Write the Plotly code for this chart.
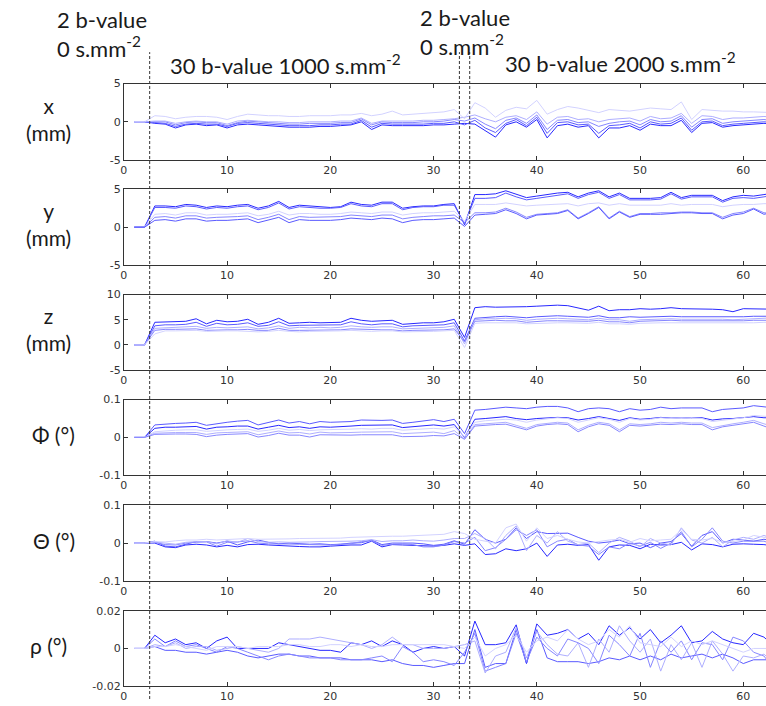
import plotly.graph_objects as go

# ---------------------------------------------------------------------------
# Motion-correction parameters per volume (5 subjects).
# Volumes 1-2: b=0, 3-32: b=1000, 33: b=0, 34-63: b=2000
# ---------------------------------------------------------------------------
x_mm = [
    [0, 0,
     -0.2, -0.3, -0.8, -0.4, -0.3, -0.5, -0.4, -0.8, -0.4, -0.3, -0.4, -0.5, -0.6, -0.7, -0.7,
     -0.7, -0.6, -0.6, -0.5, -0.4, 0.0, -1.0, -0.4, -0.5, -0.5, -0.5, -0.5, -0.4, -0.4, -0.3,
     -0.2,
     -0.3, -1.2, -2.0, -0.4, 0.0, -0.7, 0.3, -2.1, -0.5, -0.3, -0.7, -0.5, -2.1, -0.8, -0.8,
     -0.5, -1.1, -0.3, -0.5, -0.5, 0.2, -1.4, -0.2, -0.1, -0.7, -0.5, -0.4, -0.3, -0.2, -0.3],
    [0, 0,
     -0.1, -0.2, -0.6, -0.3, -0.2, -0.3, -0.3, -0.6, -0.2, -0.1, -0.2, -0.3, -0.4, -0.5, -0.5,
     -0.5, -0.4, -0.4, -0.3, -0.3, 0.2, -0.7, -0.2, -0.3, -0.3, -0.3, -0.3, -0.2, -0.2, 0.0,
     -0.4,
     0.2, -0.8, -1.4, -0.2, 0.3, -0.5, 0.6, -1.5, -0.1, 0.0, -0.4, -0.3, -1.5, -0.5, -0.4,
     -0.2, -0.8, 0.0, -0.3, -0.2, 0.5, -1.1, 0.0, 0.1, -0.5, -0.3, -0.2, -0.1, 0.0, -0.1],
    [0, 0,
     0.0, 0.0, -0.4, -0.1, 0.0, -0.1, -0.1, -0.5, -0.1, 0.1, 0.0, -0.1, -0.2, -0.3, -0.3,
     -0.2, -0.2, -0.2, -0.1, -0.1, 0.4, -0.4, 0.0, -0.1, -0.1, -0.1, 0.0, 0.0, 0.1, 0.3,
     0.1,
     0.5, -0.3, -0.9, 0.2, 0.5, -0.2, 0.9, -1.0, 0.2, 0.3, -0.1, 0.0, -0.6, -0.2, 0.0,
     0.1, -0.4, 0.3, 0.0, 0.1, 0.8, -0.7, 0.3, 0.4, -0.2, 0.0, 0.1, 0.2, 0.3, 0.1],
    [0, 0,
     0.1, 0.1, -0.2, 0.0, 0.1, 0.0, 0.0, -0.3, 0.1, 0.2, 0.1, 0.0, 0.0, -0.1, -0.1,
     0.0, 0.0, 0.0, 0.1, 0.1, 0.5, -0.2, 0.1, 0.1, 0.1, 0.1, 0.2, 0.2, 0.3, 0.4,
     0.6,
     0.9, 0.4, 0.0, 0.6, 0.8, 0.3, 1.3, -0.3, 0.6, 0.7, 0.3, 0.4, 0.0, 0.3, 0.4,
     0.5, 0.1, 0.7, 0.4, 0.5, 1.1, -0.2, 0.8, 0.7, 0.3, 0.5, 0.5, 0.6, 0.7, 0.6],
    [0, 0,
     0.8, 0.7, 0.4, 0.6, 0.7, 0.7, 0.6, 0.3, 0.7, 1.0, 0.9, 0.8, 0.8, 0.7, 0.7,
     0.8, 0.8, 0.8, 0.9, 0.9, 1.1, 0.8, 1.0, 1.4, 0.9, 1.0, 1.1, 1.2, 1.3, 1.6,
     0.4,
     2.5, 1.8, 0.6, 1.5, 1.9, 1.7, 2.8, 1.0, 1.6, 2.0, 1.8, 1.5, 1.2, 1.6, 1.5,
     1.4, 1.6, 1.8, 1.7, 1.6, 2.6, 0.3, 1.6, 1.5, 1.4, 1.4, 1.3, 1.3, 1.2, 1.2],
]

y_mm = [
    [0, 0,
     2.8, 2.8, 2.7, 3.0, 2.9, 2.6, 2.8, 2.7, 2.9, 3.0, 2.5, 2.8, 3.4, 2.6, 2.9,
     2.8, 2.7, 2.6, 2.7, 3.3, 3.0, 2.9, 3.3, 3.3, 2.5, 2.7, 2.8, 2.8, 3.0, 3.1,
     0.3,
     4.3, 4.3, 4.4, 4.8, 4.3, 3.9, 4.1, 4.3, 4.5, 4.6, 4.0, 4.5, 4.8, 4.0, 4.5,
     3.8, 3.8, 3.8, 3.9, 4.6, 3.9, 4.2, 4.2, 4.2, 3.5, 4.0, 4.2, 4.1, 4.3, 4.5],
    [0, 0,
     2.6, 2.6, 2.5, 2.8, 2.7, 2.4, 2.6, 2.5, 2.7, 2.8, 2.3, 2.6, 3.2, 2.4, 2.7,
     2.6, 2.5, 2.5, 2.6, 3.1, 2.8, 2.7, 3.1, 3.1, 2.3, 2.6, 2.7, 2.7, 2.9, 2.9,
     0.5,
     3.8, 3.8, 3.9, 4.5, 4.0, 3.6, 3.8, 4.0, 4.2, 4.4, 3.8, 4.3, 4.6, 3.8, 4.3,
     3.6, 3.6, 3.6, 3.7, 4.4, 3.7, 4.0, 4.0, 4.0, 3.3, 3.8, 3.9, 3.8, 4.0, 4.2],
    [0, 0,
     1.7, 1.8, 1.6, 1.9, 1.9, 1.6, 1.7, 1.7, 1.8, 1.9, 1.5, 1.7, 2.1, 1.6, 1.8,
     1.8, 1.7, 1.7, 1.8, 2.0, 1.9, 1.8, 2.0, 2.0, 1.6, 1.8, 1.9, 1.9, 2.0, 2.1,
     0.8,
     3.0, 3.0, 3.0, 3.2, 3.0, 2.8, 2.9, 3.0, 3.1, 3.1, 2.8, 3.1, 3.2, 2.9, 3.1,
     2.9, 2.9, 2.9, 2.9, 3.1, 2.9, 3.0, 3.0, 3.0, 2.7, 2.9, 3.0, 3.0, 3.1, 3.1],
    [0, 0,
     1.3, 1.4, 1.2, 1.5, 1.5, 1.2, 1.3, 1.3, 1.4, 1.5, 1.0, 1.3, 1.7, 1.0, 1.4,
     1.3, 1.3, 1.3, 1.4, 1.6, 1.5, 1.4, 1.6, 1.6, 1.1, 1.3, 1.4, 1.5, 1.5, 1.6,
     0.6,
     1.9, 1.9, 2.0, 2.5, 2.0, 1.3, 1.7, 1.8, 1.9, 2.3, 1.2, 1.9, 2.7, 1.2, 2.1,
     1.4, 1.8, 1.8, 1.9, 1.9, 2.0, 2.0, 1.9, 1.9, 1.3, 1.8, 2.0, 2.5, 1.9, 1.8],
    [0, 0,
     0.9, 1.0, 0.8, 1.1, 1.1, 0.8, 0.9, 0.9, 1.0, 1.1, 0.6, 0.9, 1.3, 0.6, 1.0,
     0.9, 0.9, 0.9, 1.0, 1.2, 1.1, 1.0, 1.2, 1.1, 0.6, 0.9, 1.0, 1.0, 1.1, 1.2,
     0.1,
     1.6, 1.7, 1.8, 2.3, 1.8, 1.1, 1.6, 1.7, 1.8, 2.2, 1.1, 1.8, 2.6, 1.1, 2.0,
     1.3, 1.7, 1.7, 1.7, 1.8, 1.9, 1.9, 1.8, 1.8, 1.1, 1.6, 1.8, 2.4, 1.7, 2.0],
]

z_mm = [
    [0, 0,
     4.5, 4.6, 4.6, 4.7, 5.2, 4.2, 4.9, 4.6, 4.7, 5.1, 4.1, 4.5, 5.3, 4.3, 4.4,
     4.5, 4.4, 4.5, 4.5, 5.3, 4.9, 4.7, 4.8, 4.9, 4.1, 4.3, 4.4, 4.4, 4.6, 5.1,
     1.5,
     7.4, 7.6, 7.5, 7.5, 7.5, 7.6, 7.7, 7.8, 7.9, 7.8, 7.3, 6.9, 7.7, 6.8, 7.0,
     7.0, 7.2, 7.1, 7.2, 7.4, 7.2, 7.2, 7.2, 7.1, 7.0, 6.6, 7.2, 7.2, 7.1, 7.1],
    [0, 0,
     3.8, 4.0, 4.0, 4.1, 4.5, 3.7, 4.3, 4.0, 4.1, 4.4, 3.7, 3.9, 4.6, 3.8, 3.9,
     3.9, 3.9, 3.9, 4.0, 4.6, 4.2, 4.0, 4.2, 4.2, 3.6, 3.8, 3.9, 3.9, 4.0, 4.4,
     0.8,
     5.3, 5.5, 5.6, 5.7, 5.6, 5.4, 5.6, 5.7, 5.8, 5.7, 5.6, 5.5, 5.8, 5.4, 5.4,
     5.6, 5.5, 5.6, 5.6, 5.7, 5.6, 5.6, 5.6, 5.5, 5.6, 5.5, 5.6, 5.7, 5.7, 5.7],
    [0, 0,
     3.3, 3.4, 3.4, 3.5, 3.7, 3.3, 3.5, 3.4, 3.5, 3.6, 3.2, 3.4, 3.8, 3.3, 3.5,
     3.4, 3.5, 3.4, 3.5, 3.8, 3.6, 3.5, 3.6, 3.6, 3.2, 3.3, 3.4, 3.4, 3.5, 3.8,
     0.2,
     5.0, 5.2, 5.2, 5.3, 5.2, 4.9, 5.1, 5.2, 5.3, 5.2, 5.1, 5.0, 5.3, 5.0, 5.0,
     4.7, 5.0, 5.1, 5.1, 5.2, 5.1, 5.1, 5.2, 5.1, 5.1, 5.0, 5.1, 5.3, 5.3, 5.4],
    [0, 0,
     2.9, 3.1, 3.1, 3.1, 3.2, 2.9, 3.0, 3.0, 3.0, 3.1, 2.9, 2.9, 3.3, 2.9, 2.9,
     2.9, 3.0, 3.0, 3.0, 3.2, 3.1, 3.0, 3.0, 3.0, 2.8, 2.9, 2.9, 3.0, 3.0, 3.2,
     0.6,
     4.7, 4.8, 4.9, 4.8, 4.8, 4.5, 4.7, 4.8, 4.8, 4.8, 4.7, 4.7, 4.9, 4.6, 4.6,
     4.4, 4.7, 4.8, 4.8, 4.9, 4.8, 4.8, 4.8, 4.7, 4.7, 4.7, 4.8, 4.9, 4.9, 4.9],
    [0, 0,
     2.2, 2.8, 2.8, 2.8, 2.9, 2.7, 2.8, 2.8, 2.8, 2.7, 2.6, 2.7, 2.9, 2.7, 2.6,
     2.7, 2.7, 2.8, 2.8, 2.9, 2.8, 2.7, 2.8, 2.8, 2.6, 2.6, 2.7, 2.7, 2.8, 2.9,
     -0.5,
     4.3, 4.4, 4.4, 4.4, 4.4, 4.2, 4.3, 4.4, 4.4, 4.4, 4.3, 4.3, 4.5, 4.2, 4.2,
     4.1, 4.3, 4.4, 4.4, 4.4, 4.4, 4.4, 4.4, 4.3, 4.3, 4.3, 4.4, 4.4, 4.5, 4.5],
]

phi_deg = [
    [0, 0,
     0.033, 0.036, 0.037, 0.038, 0.040, 0.032, 0.037, 0.040, 0.043, 0.045, 0.033, 0.040, 0.046, 0.038, 0.042,
     0.036, 0.042, 0.040, 0.041, 0.042, 0.046, 0.045, 0.045, 0.046, 0.037, 0.040, 0.043, 0.047, 0.042, 0.048,
     0.010,
     0.072, 0.074, 0.076, 0.080, 0.078, 0.076, 0.080, 0.082, 0.082, 0.078, 0.068, 0.076, 0.078, 0.076, 0.068,
     0.076, 0.072, 0.074, 0.080, 0.076, 0.078, 0.078, 0.078, 0.068, 0.074, 0.076, 0.078, 0.084, 0.080, 0.078],
    [0, 0,
     0.024, 0.027, 0.027, 0.028, 0.029, 0.022, 0.027, 0.028, 0.030, 0.030, 0.022, 0.027, 0.032, 0.026, 0.028,
     0.024, 0.028, 0.027, 0.028, 0.030, 0.032, 0.032, 0.033, 0.033, 0.026, 0.028, 0.030, 0.033, 0.030, 0.034,
     0.000,
     0.048, 0.050, 0.052, 0.055, 0.050, 0.047, 0.050, 0.052, 0.053, 0.052, 0.046, 0.050, 0.055, 0.050, 0.045,
     0.052, 0.048, 0.050, 0.053, 0.051, 0.052, 0.051, 0.052, 0.046, 0.049, 0.050, 0.052, 0.055, 0.052, 0.052],
    [0, 0,
     0.015, 0.018, 0.019, 0.020, 0.020, 0.016, 0.019, 0.020, 0.021, 0.022, 0.016, 0.019, 0.024, 0.019, 0.021,
     0.018, 0.020, 0.020, 0.020, 0.022, 0.023, 0.022, 0.024, 0.024, 0.019, 0.021, 0.022, 0.024, 0.022, 0.028,
     0.002,
     0.040, 0.044, 0.046, 0.048, 0.046, 0.040, 0.046, 0.050, 0.052, 0.050, 0.040, 0.046, 0.052, 0.048, 0.040,
     0.050, 0.046, 0.048, 0.052, 0.050, 0.052, 0.050, 0.050, 0.042, 0.046, 0.050, 0.052, 0.058, 0.055, 0.054],
    [0, 0,
     0.011, 0.013, 0.013, 0.013, 0.013, 0.008, 0.012, 0.013, 0.014, 0.015, 0.007, 0.011, 0.017, 0.012, 0.013,
     0.009, 0.014, 0.012, 0.012, 0.013, 0.014, 0.014, 0.015, 0.015, 0.010, 0.012, 0.013, 0.014, 0.010, 0.018,
     -0.004,
     0.034, 0.036, 0.038, 0.040, 0.032, 0.024, 0.034, 0.038, 0.040, 0.038, 0.020, 0.032, 0.040, 0.036, 0.020,
     0.036, 0.034, 0.036, 0.040, 0.038, 0.040, 0.038, 0.038, 0.026, 0.032, 0.036, 0.040, 0.045, 0.036, 0.028],
    [0, 0,
     0.008, 0.009, 0.009, 0.009, 0.008, 0.002, 0.006, 0.008, 0.009, 0.010, 0.001, 0.005, 0.011, 0.006, 0.006,
     0.001, 0.007, 0.006, 0.006, 0.006, 0.007, 0.007, 0.007, 0.007, 0.002, 0.002, 0.003, 0.005, 0.004, 0.010,
     -0.005,
     0.030, 0.033, 0.034, 0.035, 0.028, 0.020, 0.030, 0.034, 0.036, 0.034, 0.015, 0.028, 0.036, 0.032, 0.015,
     0.032, 0.030, 0.032, 0.035, 0.034, 0.036, 0.034, 0.034, 0.020, 0.028, 0.032, 0.036, 0.040, 0.030, 0.020],
]

theta_deg = [
    [0, 0,
     -0.000, -0.010, -0.012, -0.005, -0.003, -0.005, -0.010, -0.006, -0.010, -0.004, -0.003, -0.005, -0.007, -0.008, -0.009,
     -0.010, -0.010, -0.008, -0.006, -0.005, -0.005, 0.005, -0.010, -0.004, -0.005, -0.006, -0.008, -0.008, -0.006, -0.002,
     -0.006,
     -0.002, -0.030, -0.028, -0.015, -0.020, -0.015, 0.000, -0.035, -0.005, -0.003, -0.006, -0.004, -0.045, -0.010, -0.005,
     -0.006, -0.015, -0.003, -0.005, -0.004, 0.002, -0.018, -0.002, -0.004, -0.010, -0.003, -0.002, -0.003, -0.004, -0.008],
    [0, 0,
     0.005, -0.008, -0.010, -0.002, 0.004, 0.004, 0.000, 0.005, -0.005, 0.003, 0.008, 0.002, -0.002, 0.000, -0.002,
     -0.003, -0.002, -0.004, -0.003, 0.000, 0.001, 0.008, -0.004, 0.000, 0.000, 0.000, -0.002, -0.006, -0.003, 0.006,
     -0.003,
     0.035, 0.010, 0.000, 0.010, 0.040, 0.012, 0.030, 0.025, 0.025, 0.026, 0.015, 0.005, 0.000, 0.003, 0.008,
     -0.002, 0.000, -0.012, 0.000, 0.004, 0.025, -0.008, 0.020, 0.030, 0.000, 0.010, 0.008, 0.005, 0.010, 0.005],
    [0, 0,
     0.002, -0.004, -0.005, 0.000, 0.002, 0.003, -0.008, 0.002, 0.003, 0.006, 0.000, -0.002, -0.002, -0.002, -0.003,
     -0.004, -0.004, -0.005, -0.003, -0.002, 0.004, 0.006, -0.006, -0.003, -0.002, -0.004, -0.010, -0.010, -0.005, 0.004,
     0.000,
     0.015, -0.020, -0.012, 0.010, 0.035, 0.020, 0.035, -0.010, 0.005, 0.010, -0.005, -0.008, -0.030, -0.010, -0.015,
     0.000, -0.008, 0.002, -0.014, 0.000, 0.030, -0.010, 0.010, 0.040, 0.005, 0.000, 0.005, 0.005, 0.005, -0.005],
    [0, 0,
     0.003, 0.000, -0.003, 0.002, 0.004, 0.004, -0.002, 0.006, 0.002, 0.012, 0.004, 0.002, 0.003, 0.002, 0.002,
     0.003, 0.004, 0.004, 0.004, 0.005, 0.006, 0.009, 0.004, 0.006, 0.006, 0.008, 0.006, 0.005, 0.008, 0.012,
     0.012,
     0.025, 0.012, -0.015, 0.020, 0.045, -0.020, 0.020, 0.000, 0.030, 0.005, -0.004, 0.000, -0.025, 0.000, 0.015,
     0.005, -0.010, 0.012, 0.000, -0.005, 0.040, 0.008, 0.000, 0.015, -0.010, 0.008, 0.015, 0.010, 0.020, 0.010],
    [0, 0,
     0.004, 0.003, 0.006, 0.008, 0.008, 0.010, 0.008, 0.009, 0.011, 0.012, 0.010, 0.010, 0.011, 0.011, 0.012,
     0.012, 0.013, 0.013, 0.013, 0.015, 0.016, 0.016, 0.017, 0.018, 0.018, 0.019, 0.020, 0.021, 0.023, 0.030,
     0.025,
     0.010, 0.005, 0.000, 0.040, 0.050, 0.005, 0.040, 0.012, 0.020, 0.010, 0.003, 0.000, 0.005, 0.008, 0.010,
     0.002, 0.012, 0.006, 0.008, 0.010, 0.035, 0.010, 0.008, 0.012, 0.002, 0.004, 0.008, 0.020, 0.015, 0.010],
]

rho_deg = [
    [0, 0,
     0.007, 0.003, 0.005, 0.002, 0.003, 0.000, 0.004, 0.006, 0.000, 0.000, 0.000, 0.000, 0.003, 0.002, 0.001,
     0.000, -0.001, -0.001, -0.002, 0.003, 0.002, 0.004, 0.001, 0.004, 0.002, -0.002, 0.000, 0.001, 0.000, 0.001,
     -0.004,
     0.0145, 0.002, 0.002, 0.003, 0.0125, -0.008, 0.013, 0.007, 0.008, 0.010, 0.005, 0.008, 0.002, 0.012, 0.007,
     0.011, 0.005, 0.010, 0.003, 0.007, 0.012, 0.003, 0.004, 0.009, 0.005, 0.003, 0.002, 0.008, 0.006, 0.001],
    [0, 0,
     0.001, -0.001, -0.001, -0.002, -0.002, -0.003, -0.002, -0.001, -0.002, -0.004, -0.005, -0.004, -0.003, -0.003, -0.004,
     -0.004, -0.005, -0.005, -0.005, -0.006, -0.006, -0.006, -0.007, -0.006, -0.008, -0.009, -0.009, -0.010, -0.009, -0.008,
     -0.008,
     0.010, -0.010, -0.008, -0.008, 0.010, -0.008, 0.010, -0.005, -0.007, -0.007, -0.007, -0.008, -0.007, -0.005, -0.006,
     -0.004, -0.006, -0.004, -0.006, -0.003, -0.005, -0.004, -0.003, -0.005, -0.003, -0.005, -0.008, -0.006, -0.006, -0.006],
    [0, 0,
     0.005, 0.001, 0.004, 0.001, 0.002, 0.000, -0.002, 0.001, 0.000, -0.002, -0.004, -0.006, -0.004, -0.003, -0.004,
     -0.005, -0.005, -0.005, -0.006, -0.006, -0.006, -0.005, -0.004, -0.007, 0.001, -0.002, -0.007, -0.006, -0.007, -0.009,
     -0.002,
     0.008, -0.012, -0.010, -0.008, 0.008, -0.007, 0.006, 0.000, -0.004, 0.005, 0.003, 0.000, -0.008, 0.007, 0.002,
     -0.004, 0.008, -0.010, 0.004, -0.002, 0.004, -0.006, 0.003, 0.002, -0.006, 0.006, 0.004, -0.002, -0.004, -0.011],
    [0, 0,
     0.002, 0.001, 0.003, 0.000, 0.001, 0.001, -0.001, 0.000, 0.001, 0.000, -0.001, -0.002, 0.000, 0.005, 0.005,
     0.005, 0.006, 0.005, 0.004, 0.003, 0.002, 0.000, 0.002, 0.006, 0.002, 0.002, 0.000, 0.000, 0.000, 0.001,
     0.002,
     0.004, -0.013, -0.004, -0.002, 0.011, -0.005, 0.009, 0.002, -0.003, -0.004, 0.003, -0.010, 0.005, -0.002, 0.012,
     0.004, -0.002, 0.005, -0.012, 0.002, -0.006, 0.003, -0.010, 0.004, -0.003, -0.012, -0.004, -0.005, -0.003, -0.008],
    [0, 0,
     0.001, 0.001, 0.002, 0.001, 0.000, -0.001, 0.001, 0.001, 0.001, 0.000, 0.001, 0.001, 0.001, 0.002, 0.002,
     0.001, 0.001, 0.002, 0.002, 0.001, 0.002, 0.001, 0.001, 0.002, 0.002, 0.002, 0.002, 0.002, 0.002, 0.001,
     0.000,
     0.006, -0.004, 0.000, 0.002, 0.007, -0.002, 0.004, 0.006, 0.004, 0.010, 0.005, 0.002, 0.004, 0.010, 0.006,
     0.012, 0.003, 0.002, 0.001, 0.006, 0.001, 0.004, 0.002, 0.004, 0.002, 0.000, -0.002, 0.000, 0.000, 0.000],
]

# Row labels and y-axis ticks for each parameter panel
row_labels = ["x<br>(mm)", "y<br>(mm)", "z<br>(mm)", "Φ (°)", "Θ (°)", "ρ (°)"]
row_label_x = [45, 45, 45, 50, 50, 45]
y_ticks = [[-5, 0, 5], [-5, 0, 5], [-5, 0, 5, 10], [-0.1, 0, 0.1], [-0.1, 0, 0.1], [-0.02, 0, 0.02]]
y_ticktext = [["-5", "0", "5"], ["-5", "0", "5"], ["-5", "0", "5", "10"],
              ["-0.1", "0", "0.1"], ["-0.1", "0", "0.1"], ["-0.02", "0", "0.02"]]
y_ranges = [[-5, 5], [-5, 5], [-5, 10], [-0.1, 0.1], [-0.1, 0.1], [-0.02, 0.02]]
x_ticks = [0, 10, 20, 30, 40, 50, 60]
panels = [x_mm, y_mm, z_mm, phi_deg, theta_deg, rho_deg]

# Acquisition block boundaries (volume index)
block_edges = [2.5, 32.5, 33.5]

# Shades of blue, one per subject
colors = ["#2828ff", "#5a5aff", "#8686ff", "#aeaeff", "#d2d2ff"]
panel_color_order = [
    [0, 1, 2, 3, 4],
    [0, 1, 4, 2, 1],
    [0, 1, 3, 2, 4],
    [1, 0, 4, 3, 2],
    [0, 1, 2, 3, 4],
    [0, 1, 2, 3, 4],
]

W, H = 766, 706
left_px = 120.5
panel_px = [(79, 157), (186.7, 264), (294, 371), (401, 478), (508.3, 586), (616, 693)]

fig = go.Figure()
font_tick = dict(family="DejaVu Sans", size=11, color="#333333")
font_text = dict(family="Lato", size=22, color="#1a1a1a")

for i, series_list in enumerate(panels):
    ax = "" if i == 0 else str(i + 1)
    for j, s in enumerate(series_list):
        fig.add_trace(go.Scatter(
            x=list(range(1, len(s) + 1)), y=s, mode="lines",
            line=dict(color=colors[panel_color_order[i][j]], width=1),
            xaxis="x" + ax, yaxis="y" + ax, showlegend=False, hoverinfo="skip",
        ))
    top, bot = panel_px[i]
    fig.layout["xaxis" + ax] = dict(
        domain=[left_px / W, 1.0], range=[0, 62.2], anchor="y" + ax,
        tickvals=x_ticks, ticks="inside", ticklen=4, tickcolor="#333333",
        showline=True, linecolor="#333333", linewidth=1, mirror="ticks",
        showgrid=False, zeroline=False, tickfont=font_tick,
    )
    fig.layout["yaxis" + ax] = dict(
        domain=[1 - bot / H, 1 - top / H], range=y_ranges[i], anchor="x" + ax,
        tickvals=y_ticks[i], ticktext=y_ticktext[i], ticks="inside", ticklen=4,
        tickcolor="#333333", showline=True, linecolor="#333333", linewidth=1,
        showgrid=False, zeroline=False, tickfont=font_tick,
    )
    fig.add_annotation(
        text=row_labels[i], xref="paper", yref="paper",
        x=row_label_x[i] / W, y=1 - ((top + bot) / 2 - 3) / H,
        xanchor="center", yanchor="middle", showarrow=False,
        font=dict(family="Lato", size=21, color="#1a1a1a"),
    )

# Dashed block separators spanning all panels
for e in block_edges:
    fig.add_shape(type="line", xref="x", yref="paper", x0=e, x1=e,
                  y0=0, y1=1 - 47 / H,
                  line=dict(color="#333333", width=1, dash="3px,2px"))

# Block headings (b=0 blocks as two-line labels)
headings = [
    ("2 b-value<br>0 s.mm<sup>-2</sup>", 51, -2),
    ("30 b-value 1000 s.mm<sup>-2</sup>", 165, 60),
    ("2 b-value<br>0 s.mm<sup>-2</sup>", 416, -4),
    ("30 b-value 2000 s.mm<sup>-2</sup>", 502, 58),
]
for txt, px, py in headings:
    multi = "<br>" in txt
    fig.add_annotation(
        text=txt, xref="paper", yref="paper", x=px / W, y=1 - py / H,
        xanchor="left", yanchor="top" if multi else "middle", align="left",
        showarrow=False, font=font_text,
    )

fig.update_layout(
    width=W, height=H, margin=dict(l=0, r=0, t=0, b=0),
    paper_bgcolor="white", plot_bgcolor="white",
)

fig.write_html("out.html")
